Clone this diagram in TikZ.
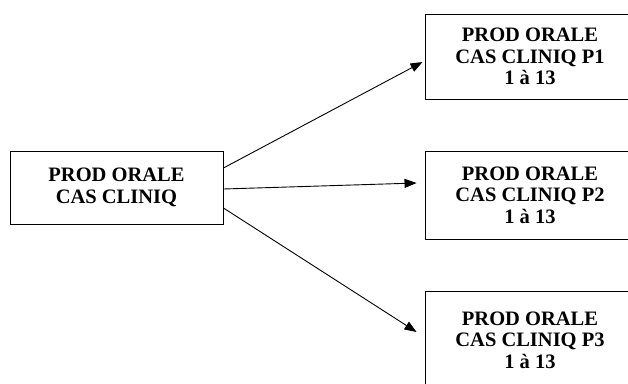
\documentclass[tikz,border=0pt]{standalone}
\usepackage{fontspec}
\setmainfont{Liberation Serif}
\usetikzlibrary{arrows.meta}
\begin{document}
\begin{tikzpicture}[x=1pt, y=-1pt, >={Triangle[length=12pt, width=9pt]},
    boite/.style={draw, line width=0.9pt, inner sep=0pt, align=center,
      font=\bfseries\fontsize{20.5}{21.5}\selectfont},
    fleche/.style={->, line width=0.9pt}]
  % 1. cadre
  \useasboundingbox (0,0) rectangle (628,383);
  \clip (0,0) rectangle (628,383);

  % 2. boites
  \node[boite, minimum width=213pt, minimum height=73pt] (orale) at (116.5,187.5) {PROD ORALE\\CAS CLINIQ};
  \node[boite, minimum width=210pt, minimum height=85pt] (p1) at (530,56.5) {PROD ORALE\\CAS CLINIQ P1\\1 à 13};
  \node[boite, minimum width=210pt, minimum height=88pt] (p2) at (530,195) {PROD ORALE\\CAS CLINIQ P2\\1 à 13};
  \node[boite, minimum width=210pt, minimum height=98pt] (p3) at (530,340) {PROD ORALE\\CAS CLINIQ P3\\1 à 13};

  % 3. fleches
  \draw[fleche] ([yshift=19.5pt]orale.east) -- ([shift={(-2,5.5)}]p1.west);
  \draw[fleche] ([yshift=-1.5pt]orale.east) -- ([shift={(-8,-12)}]p2.west);
  \draw[fleche] ([yshift=-20.5pt]orale.east) -- ([shift={(-8,-8)}]p3.west);
\end{tikzpicture}
\end{document}
